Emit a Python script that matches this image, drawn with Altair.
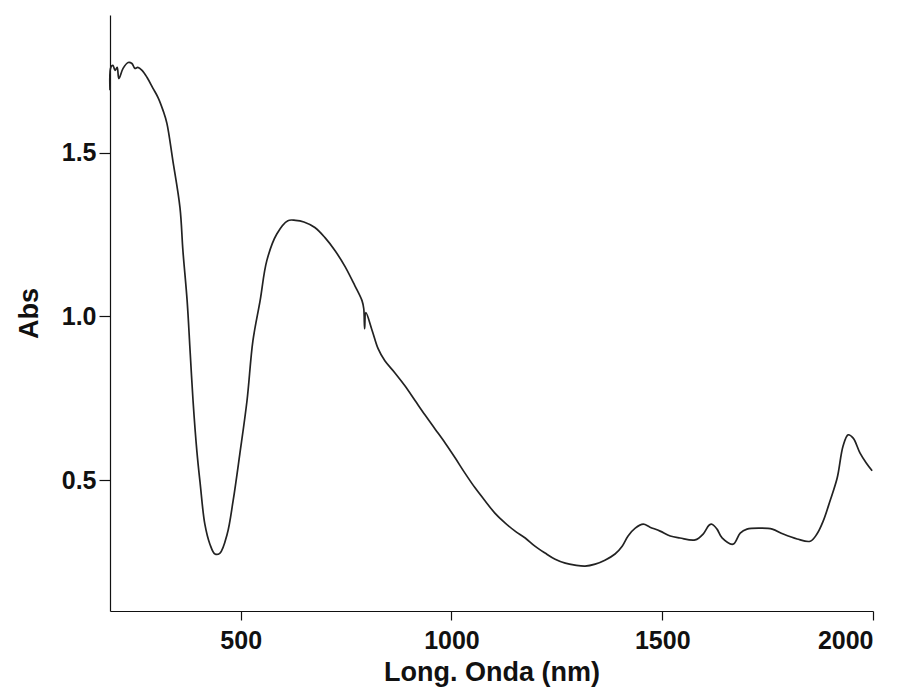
import altair as alt
import pandas as pd

wavelength_nm = [190, 192, 197, 202, 207, 211, 221, 233, 242, 249, 256, 266, 278, 292, 304, 316, 325, 339, 356, 363,
                 373, 380, 387, 396, 404, 415, 427, 439, 451, 468, 482, 498, 515, 529, 546, 562, 586, 612, 630, 650,
                 676, 700, 724, 748, 771, 788, 792, 794, 797, 812, 826, 842, 866, 890, 914, 937, 961, 985, 1009, 1032,
                 1056, 1080, 1103, 1127, 1151, 1175, 1198, 1222, 1246, 1270, 1293, 1317, 1341, 1364, 1388, 1405, 1419,
                 1436, 1455, 1471, 1495, 1519, 1542, 1578, 1597, 1611, 1618, 1630, 1642, 1668, 1685, 1701, 1732, 1761,
                 1787, 1820, 1851, 1867, 1882, 1898, 1915, 1929, 1941, 1953, 1969, 1984, 1998]
absorbance = [1.690, 1.760, 1.766, 1.751, 1.760, 1.726, 1.757, 1.775, 1.772, 1.757, 1.760, 1.751, 1.729, 1.696, 1.668,
              1.628, 1.589, 1.476, 1.332, 1.200, 1.047, 0.894, 0.742, 0.589, 0.488, 0.365, 0.304, 0.274, 0.277, 0.335,
              0.436, 0.580, 0.742, 0.925, 1.047, 1.170, 1.252, 1.292, 1.293, 1.288, 1.271, 1.240, 1.200, 1.151, 1.093,
              1.047, 1.023, 0.962, 1.011, 0.956, 0.901, 0.864, 0.827, 0.787, 0.742, 0.699, 0.656, 0.613, 0.567, 0.521,
              0.476, 0.436, 0.399, 0.369, 0.344, 0.323, 0.298, 0.277, 0.258, 0.246, 0.240, 0.237, 0.243, 0.255, 0.274,
              0.298, 0.329, 0.353, 0.365, 0.356, 0.344, 0.329, 0.323, 0.317, 0.335, 0.362, 0.365, 0.350, 0.323, 0.304,
              0.338, 0.350, 0.353, 0.350, 0.335, 0.320, 0.313, 0.335, 0.375, 0.436, 0.506, 0.604, 0.638, 0.628, 0.583,
              0.552, 0.528]

x_ticks = [500, 1000, 1500, 2000]
y_ticks = [0.5, 1.0, 1.5]

df = pd.DataFrame({"nm": wavelength_nm, "abs": absorbance, "order": list(range(len(wavelength_nm)))})

FONT = "Liberation Sans"

chart = alt.Chart(df).mark_line(color="#222222", strokeWidth=1.7, interpolate="catmull-rom").encode(
    x=alt.X("nm:Q", title="Long. Onda (nm)",
            scale=alt.Scale(domain=[190, 2000], nice=False, zero=False),
            axis=alt.Axis(values=x_ticks, format="d", grid=False, tickSize=9, labelPadding=8,
                          titlePadding=6)),
    y=alt.Y("abs:Q", title="Abs",
            scale=alt.Scale(domain=[0.1, 1.92], nice=False, zero=False),
            axis=alt.Axis(values=y_ticks, format=".1f", grid=False, tickSize=11, labelPadding=3,
                          titlePadding=18)),
    order="order:Q",
).properties(
    width=763,
    height=596,
    autosize=alt.AutoSizeParams(type="none"),
    padding={"left": 102, "top": 7, "right": 20, "bottom": 80},
).configure_view(stroke=None).configure_axis(
    domainColor="#111111",
    domainWidth=1.2,
    tickColor="#111111",
    tickWidth=1.2,
    labelFont=FONT,
    labelFontSize=25,
    labelFontWeight="bold",
    labelColor="#111111",
    titleFont=FONT,
    titleFontSize=27,
    titleFontWeight="bold",
    titleColor="#111111",
)

chart.save("out.html", embed_options={"renderer": "svg", "actions": False})
